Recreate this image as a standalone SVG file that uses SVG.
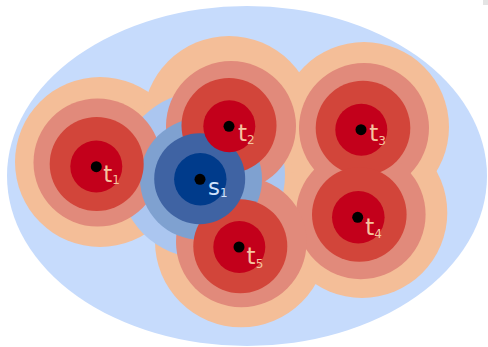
<svg xmlns="http://www.w3.org/2000/svg" width="488" height="347" viewBox="0 0 488 347">
<style>
.bg{fill:#c6dbfc}
.o{fill:#f4be98}
.sa{fill:#e18a7b}
.r{fill:#d2453a}
.d{fill:#c3001b}
.b4{fill:#abc6f0}
.b3{fill:#7fa1d0}
.b2{fill:#3f63a3}
.b1{fill:#003b8b}
.dot{fill:#000}
.lt{font-family:"DejaVu Sans",sans-serif;font-size:23px;fill:#f5c4a0}
.ls{font-family:"DejaVu Sans",sans-serif;font-size:23px;fill:#d0e2fc}
.sub{font-size:12px}
</style>
<rect x="0" y="0" width="488" height="347" fill="#fff"/>
<rect x="483" y="0" width="5" height="5" fill="#e4e4e4"/>
<ellipse class="bg" cx="247" cy="176" rx="240" ry="170"/>
<g id="level4">
<circle class="o" cx="100" cy="162" r="85"/>
<circle class="o" cx="229" cy="122" r="86"/>
<circle class="o" cx="364" cy="127" r="85"/>
<circle class="o" cx="362" cy="212.7" r="85.3"/>
<circle class="o" cx="241" cy="241.3" r="86"/>
<circle class="b4" cx="202" cy="175" r="83"/>
</g>
<g id="level3">
<circle class="sa" cx="97.5" cy="162.5" r="64"/>
<circle class="sa" cx="231" cy="126" r="65"/>
<circle class="sa" cx="364" cy="128" r="65"/>
<circle class="sa" cx="360.8" cy="214.5" r="64.8"/>
<circle class="sa" cx="241.3" cy="242" r="65.3"/>
<circle class="b3" cx="201" cy="179" r="61"/>
</g>
<g id="level2">
<circle class="r" cx="96.7" cy="164" r="47"/>
<circle class="r" cx="229" cy="125.5" r="47.5"/>
<circle class="r" cx="363" cy="128" r="47.3"/>
<circle class="r" cx="359.3" cy="214.5" r="47.3"/>
<circle class="r" cx="240.3" cy="246.3" r="47"/>
<circle class="b2" cx="199.7" cy="178.7" r="45.5"/>
</g>
<g id="level1">
<circle class="d" cx="96.3" cy="166.5" r="26"/>
<circle class="d" cx="229.3" cy="126.3" r="26"/>
<circle class="d" cx="361.3" cy="129.7" r="26"/>
<circle class="d" cx="358.3" cy="217.3" r="26.3"/>
<circle class="d" cx="239.3" cy="247" r="26"/>
<circle class="b1" cx="200.3" cy="179.3" r="26.2"/>
</g>
<g id="connectors"></g>
<g id="t1"><circle class="dot" cx="96.3" cy="166.7" r="5.5"/><text class="lt" x="103.3" y="181.7">t<tspan class="sub" dy="2.5">1</tspan></text></g>
<g id="t2"><circle class="dot" cx="229" cy="126.3" r="5.5"/><text class="lt" x="238" y="140.7">t<tspan class="sub" dy="3">2</tspan></text></g>
<g id="t3"><circle class="dot" cx="361" cy="129.7" r="5.5"/><text class="lt" x="369.3" y="141">t<tspan class="sub" dy="3.5">3</tspan></text></g>
<g id="t4"><circle class="dot" cx="357.7" cy="217.3" r="5.5"/><text class="lt" x="365.3" y="235">t<tspan class="sub" dy="3.3">4</tspan></text></g>
<g id="t5"><circle class="dot" cx="239" cy="247" r="5.5"/><text class="lt" x="246.6" y="264">t<tspan class="sub" dy="4">5</tspan></text></g>
<g id="s1"><circle class="dot" cx="200" cy="179.3" r="5.5"/><text class="ls" x="208" y="195">s<tspan class="sub" dy="2.3">1</tspan></text></g>
</svg>
